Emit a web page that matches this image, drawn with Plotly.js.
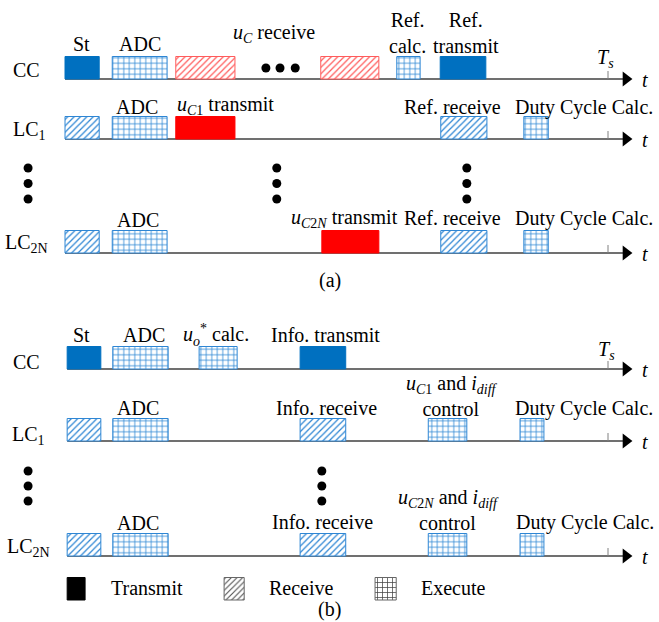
<!DOCTYPE html>
<html>
<head>
<meta charset="utf-8">
<script src="https://cdn.plot.ly/plotly-3.0.1.min.js"></script>
<style>
  html, body { margin: 0; padding: 0; background: #ffffff; }
  #chart { width: 659px; height: 622px; }
</style>
</head>
<body>
<div id="chart"></div>
<script>
// ---- Task schedule, times in % of the switching period Ts ----
const taskRow = [
  'ccA', 'ccA', 'ccA', 'ccA', 'ccA', 'ccA',
  'lc1A', 'lc1A', 'lc1A', 'lc1A', 'lc1A',
  'lc2nA', 'lc2nA', 'lc2nA', 'lc2nA', 'lc2nA',
  'ccB', 'ccB', 'ccB', 'ccB',
  'lc1B', 'lc1B', 'lc1B', 'lc1B', 'lc1B',
  'lc2nB', 'lc2nB', 'lc2nB', 'lc2nB', 'lc2nB',
  'legend', 'legend', 'legend'
];
const taskStart = [
  0, 8.7, 20.4, 47.1, 61.1, 69.1,
  0, 8.7, 20.4, 69.2, 84.5,
  0, 8.7, 47.3, 69.2, 84.5,
  0.4, 8.8, 24.7, 43.3,
  0.4, 8.8, 43.3, 66.9, 83.8,
  0.4, 8.8, 43.3, 66.9, 83.8,
  0.4, 29.3, 57.1
];
const taskEnd = [
  6.3, 18.8, 31.3, 57.8, 65.4, 77.5,
  6.3, 18.8, 31.3, 77.7, 89.0,
  6.3, 18.8, 57.8, 77.7, 89.0,
  6.6, 19.0, 31.7, 51.7,
  6.6, 19.0, 51.7, 74.0, 88.2,
  6.6, 19.0, 51.7, 74.0, 88.2,
  3.7, 33.0, 61.0
];
const taskKind = [
  'txBlue', 'exec', 'rxRed', 'rxRed', 'exec', 'txBlue',
  'rxBlue', 'exec', 'txRed', 'rxBlue', 'exec',
  'rxBlue', 'exec', 'txRed', 'rxBlue', 'exec',
  'txBlue', 'exec', 'exec', 'txBlue',
  'rxBlue', 'exec', 'rxBlue', 'exec', 'exec',
  'rxBlue', 'exec', 'rxBlue', 'exec', 'exec',
  'keyTx', 'keyRx', 'keyExec'
];

// Continuation dots
const dotT = [37.0, 39.6, 42.4, -6.8, -6.8, -6.8, 39.0, 39.0, 39.0, 74.0, 74.0, 74.0,
              -6.8, -6.8, -6.8, 47.3, 47.3, 47.3];
const dotY = [68, 68, 68, 168, 183.5, 199, 168, 183.5, 199, 168, 183.5, 199,
              471, 486, 501, 471, 486, 501];

const TS = 100;          // end of the switching period
const ARROW_T = 103.3;   // arrow head position on each time line

// ---- Drawing layout ----
const rowBase = { ccA: 79, lc1A: 139, lc2nA: 253, ccB: 369, lc1B: 441, lc2nB: 556, legend: 600 };
const timeRows = ['ccA', 'lc1A', 'lc2nA', 'ccB', 'lc1B', 'lc2nB'];
const rowStart = { ccA: 0, lc1A: 0, lc2nA: 0, ccB: 0.4, lc1B: 0.4, lc2nB: 0.4 };
const BOX_H = 22.5;
const PX_PER_T = 5.43;
const ORIGIN_PX = 65;
const W = 659, H = 622;

const FONT = 'Liberation Serif, Times New Roman, serif';
const BLUE = '#0070c0';
const BLUE_LINE = '#2e86d4';
const RED = '#ff0000';
const RED_LINE = '#ff5c5c';
const AXIS = '#404040';

const styles = {
  txBlue:  { color: BLUE, line: BLUE, pattern: null },
  rxBlue:  { color: '#ffffff', line: BLUE_LINE, pattern: { shape: '/', fgcolor: BLUE_LINE, bgcolor: '#ffffff', size: 4.5, solidity: 0.28 } },
  exec:    { color: '#ffffff', line: BLUE_LINE, pattern: { shape: '+', fgcolor: BLUE_LINE, bgcolor: '#ffffff', size: 5.5, solidity: 0.27 } },
  txRed:   { color: RED, line: RED, pattern: null },
  rxRed:   { color: '#ffffff', line: RED_LINE, pattern: { shape: '/', fgcolor: RED_LINE, bgcolor: '#ffffff', size: 4.5, solidity: 0.28 } },
  keyTx:   { color: '#000000', line: '#000000', pattern: null },
  keyRx:   { color: '#ffffff', line: '#666666', pattern: { shape: '/', fgcolor: '#505050', bgcolor: '#ffffff', size: 4, solidity: 0.28 } },
  keyExec: { color: '#ffffff', line: '#666666', pattern: { shape: '+', fgcolor: '#404040', bgcolor: '#ffffff', size: 5, solidity: 0.27 } }
};

const traces = [];
Object.keys(styles).forEach(kind => {
  const idx = taskKind.map((k, i) => k === kind ? i : -1).filter(i => i >= 0);
  const st = styles[kind];
  const marker = { color: st.color, line: { color: st.line, width: 1 } };
  if (st.pattern) marker.pattern = Object.assign({ fillmode: 'replace' }, st.pattern);
  traces.push({
    type: 'bar', orientation: 'h',
    y: idx.map(i => rowBase[taskRow[i]] - BOX_H / 2),
    base: idx.map(i => taskStart[i]),
    x: idx.map(i => taskEnd[i] - taskStart[i]),
    width: BOX_H,
    marker: marker,
    hoverinfo: 'skip', showlegend: false
  });
});

// time-line arrow heads
traces.push({
  type: 'scatter', mode: 'markers',
  x: timeRows.map(() => ARROW_T),
  y: timeRows.map(r => rowBase[r]),
  marker: { symbol: 'triangle-right', size: 13, color: '#000000' },
  hoverinfo: 'skip', showlegend: false
});

// continuation dots
traces.push({
  type: 'scatter', mode: 'markers',
  x: dotT, y: dotY,
  marker: { symbol: 'circle', size: 9, color: '#000000' },
  hoverinfo: 'skip', showlegend: false
});

const shapes = [];
timeRows.forEach(r => {
  shapes.push({ type: 'line', xref: 'x', yref: 'y', x0: rowStart[r], x1: ARROW_T, y0: rowBase[r], y1: rowBase[r],
                line: { color: AXIS, width: 1.5 }, layer: 'below' });
  shapes.push({ type: 'line', xref: 'x', yref: 'y', x0: TS, x1: TS, y0: rowBase[r] - 8, y1: rowBase[r],
                line: { color: '#808080', width: 1 }, layer: 'below' });
});

const uC = '<i>u</i><sub><i>C</i></sub>';
const uC1 = '<i>u</i><sub><i>C</i>1</sub>';
const uC2N = '<i>u</i><sub><i>C</i>2<i>N</i></sub>';
const iDiff = '<i>i</i><sub><i>diff</i></sub>';
const Ts = '<i>T</i><sub><i>s</i></sub>';

const labels = [
  // (a)
  [2.95, 44, 'St'], [13.8, 44, 'ADC'], [38.5, 33, uC + ' receive'],
  [63.0, 32.5, 'Ref.<br>calc.'], [73.9, 32.5, 'Ref.<br>transmit'], [99.6, 58, Ts],
  [-7.0, 70, 'CC'],
  [13.3, 107, 'ADC'], [29.5, 105, uC1 + ' transmit'], [71.3, 107, 'Ref. receive'],
  [95.6, 107, 'Duty Cycle Calc.'], [-6.6, 130, 'LC<sub>1</sub>'],
  [13.4, 220, 'ADC'], [51.4, 218, uC2N + ' transmit'], [71.3, 218, 'Ref. receive'],
  [95.6, 218, 'Duty Cycle Calc.'], [-7.0, 243, 'LC<sub>2N</sub>'],
  [48.8, 280, '(a)'],
  // (b)
  [3.1, 335, 'St'], [14.5, 335, 'ADC'], [27.8, 335, '<i>u</i><sub><i>o</i></sub><sup>*</sup> calc.'],
  [47.9, 335, 'Info. transmit'], [99.7, 350, Ts], [-7.0, 362, 'CC'],
  [13.4, 408, 'ADC'], [48.1, 408, 'Info. receive'],
  [71.3, 396, uC1 + ' and ' + iDiff + '<br>control'], [95.6, 408, 'Duty Cycle Calc.'],
  [-6.8, 435, 'LC<sub>1</sub>'],
  [13.4, 523, 'ADC'], [47.5, 522, 'Info. receive'],
  [70.7, 510, uC2N + ' and ' + iDiff + '<br>control'], [95.8, 522, 'Duty Cycle Calc.'],
  [-6.8, 547, 'LC<sub>2N</sub>'],
  // key
  [15.1, 588, 'Transmit'], [43.6, 588, 'Receive'], [71.5, 588, 'Execute'],
  [48.8, 609.5, '(b)']
];

const annotations = labels.map(l => ({
  x: l[0], y: l[1], xref: 'x', yref: 'y', text: l[2], showarrow: false,
  xanchor: 'center', yanchor: 'middle',
  font: { family: FONT, size: 20, color: '#000000' }
}));
timeRows.forEach(r => annotations.push({
  x: 106.8, y: rowBase[r] + 1, xref: 'x', yref: 'y', text: '<i>t</i>', showarrow: false,
  xanchor: 'center', yanchor: 'middle', font: { family: FONT, size: 20, color: '#000000' }
}));

const layout = {
  width: W, height: H,
  margin: { l: 0, r: 0, t: 0, b: 0, pad: 0 },
  paper_bgcolor: '#ffffff', plot_bgcolor: '#ffffff',
  barmode: 'overlay', bargap: 0,
  xaxis: { range: [-ORIGIN_PX / PX_PER_T, (W - ORIGIN_PX) / PX_PER_T], visible: false, fixedrange: true },
  yaxis: { range: [H, 0], visible: false, fixedrange: true },
  shapes: shapes,
  annotations: annotations,
  showlegend: false
};

Plotly.newPlot('chart', traces, layout, { staticPlot: true, displayModeBar: false });
</script>
</body>
</html>
